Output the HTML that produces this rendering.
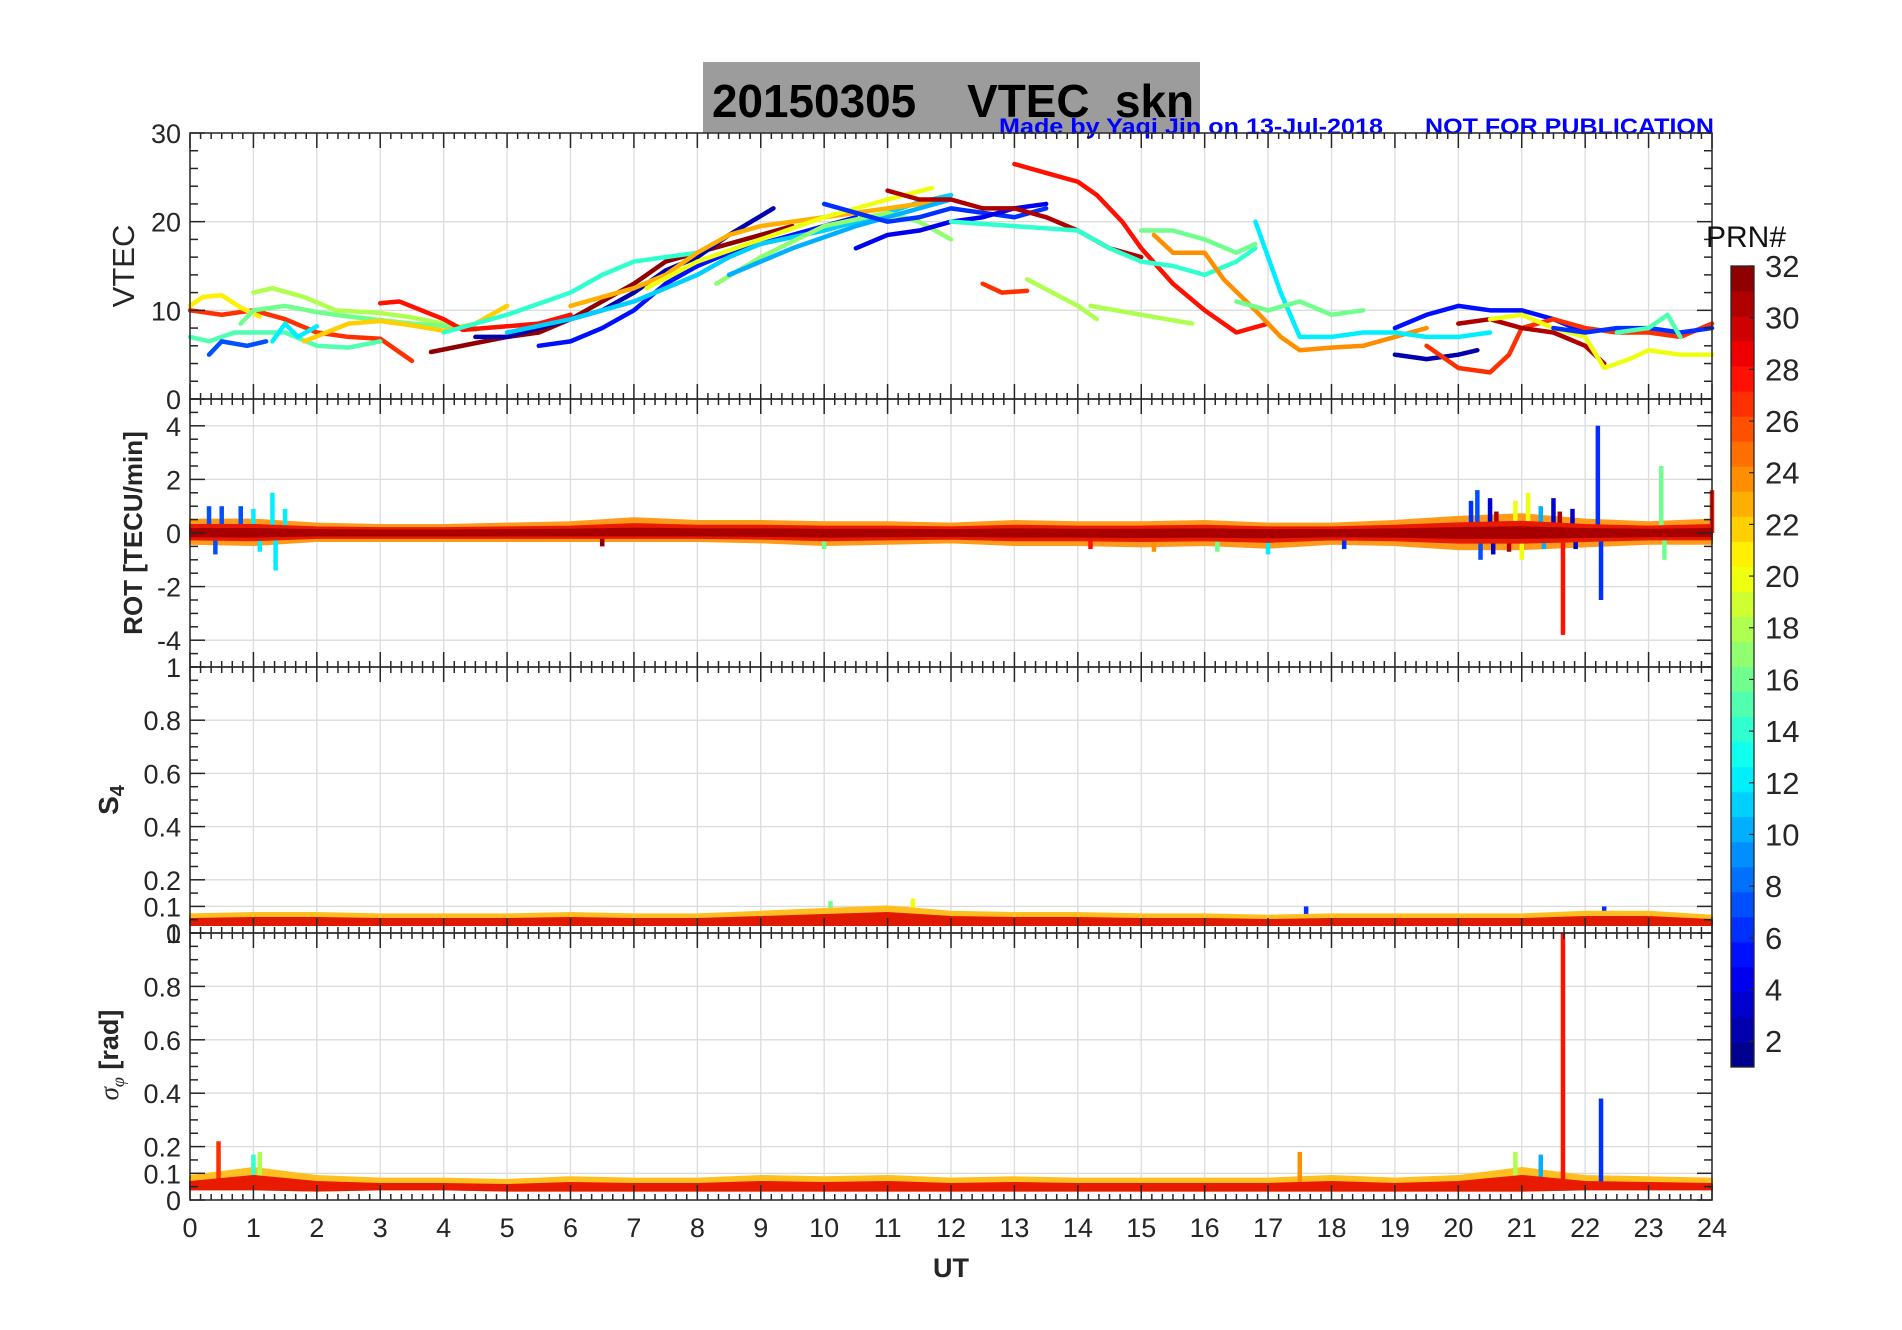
<!DOCTYPE html>
<html><head><meta charset="utf-8"><style>
html,body{margin:0;padding:0;background:#fff}
svg{display:block;font-family:"Liberation Sans",sans-serif}
</style></head><body>
<svg id="chart" width="1902" height="1330" viewBox="0 0 1902 1330" xmlns="http://www.w3.org/2000/svg">
<rect x="0" y="0" width="1902" height="1330" fill="#fff"/>
<rect x="703" y="62" width="497" height="71" fill="#9c9c9c"/>
<text x="712" y="117" font-size="46" font-weight="bold" textLength="482" lengthAdjust="spacingAndGlyphs" xml:space="preserve">20150305    VTEC  skn</text>
<text x="999" y="134" font-size="22" font-weight="bold" fill="#0000ff" textLength="384" lengthAdjust="spacingAndGlyphs">Made by Yaqi Jin on 13-Jul-2018</text>
<text x="1425" y="134" font-size="22" font-weight="bold" fill="#0000ff" textLength="289" lengthAdjust="spacingAndGlyphs">NOT FOR PUBLICATION</text>
<g id="plots"></g>
</svg>
<script>
// ---- data ----
const hourTicks=[0,1,2,3,4,5,6,7,8,9,10,11,12,13,14,15,16,17,18,19,20,21,22,23,24];
const vtecTicks=[0,10,20,30];
const rotTicks=[-4,-2,0,2,4];
const s4Ticks=[0,0.1,0.2,0.4,0.6,0.8,1];
const sigTicks=[0,0.1,0.2,0.4,0.6,0.8,1];
const cbTicks=[2,4,6,8,10,12,14,16,18,20,22,24,26,28,30,32];
const vtecPrn=[27,21,18,16,15,7,12,22,28,32,5,2,11,14,23,20,17,10,6,4,31,28,14,16,24,18,18,27,12,16,5,2,27,31,20,6,15];
const vtecPts=[
[[0,10],[0.5,9.5],[1,10],[1.5,9],[2,7.5],[2.5,7],[3,6.8],[3.5,4.3]],
[[0,10.5],[0.2,11.5],[0.5,11.7],[0.8,10.3],[1.1,9.3]],
[[1,12],[1.3,12.5],[1.8,11.5],[2.3,10],[3,9.7],[3.5,9.2],[4,8.5],[4.5,7.8]],
[[0.8,8.5],[1,10],[1.5,10.5],[2,9.8],[2.5,9.3],[3.5,8.5],[4.5,8]],
[[0,7],[0.3,6.5],[0.7,7.5],[1.5,7.5],[2,6],[2.5,5.8],[3,6.5]],
[[0.3,5],[0.5,6.5],[0.9,6],[1.2,6.5]],
[[1.3,6.5],[1.5,8.5],[1.7,7],[2,8.2]],
[[1.8,6.5],[2.5,8.5],[3,8.8],[3.5,8.3],[4,7.7],[4.5,8.5],[5,10.5]],
[[3,10.8],[3.3,11],[4,9],[4.3,7.8],[5,8.2],[5.5,8.5],[6,9.5]],
[[3.8,5.3],[4.5,6.3],[5,7],[5.5,7.5],[6,9],[6.5,11],[7,13],[7.5,15.5],[8,16.5],[8.5,17.5],[9,18.5],[9.5,19.5]],
[[5.5,6],[6,6.5],[6.5,8],[7,10],[7.5,13],[8,15],[8.5,16.5],[9,17.5],[9.5,18.5],[10,19.5],[10.5,20.5]],
[[4.5,7],[5,7],[5.5,8],[6,9],[6.5,10],[7,12],[7.5,14.5],[8,16],[8.5,18.5],[9.2,21.5]],
[[5,7.5],[6,9],[6.5,10],[7,11],[7.5,12.5],[8,14],[8.5,16],[9,17.5],[10,19],[11,21],[11.5,22.2],[12,23]],
[[4,7.5],[5,9.5],[6,12],[6.5,14],[7,15.5],[7.5,16],[8,16.5]],
[[6,10.5],[7,12.5],[7.5,14],[8,16.5],[8.5,18.5],[9,19.5],[10,20.5],[11,21.5],[12,22.5]],
[[7.2,12.5],[8,15.5],[9,18],[10,20.5],[11,22.5],[11.7,23.8]],
[[8.3,13],[9,16],[10,19.5],[11,21],[11.5,20],[12,18]],
[[8.5,14],[9.5,17],[10.5,19.5],[11.5,21.5],[12,22.5]],
[[10,22],[10.5,21],[11,20],[11.5,20.5],[12,21.5],[12.5,21],[13,20.5],[13.5,21.5]],
[[10.5,17],[11,18.5],[11.5,19],[12,20],[12.5,20.5],[13,21.5],[13.5,22]],
[[11,23.5],[11.5,22.5],[12,22.5],[12.5,21.5],[13,21.5],[13.5,20.5],[14,19],[14.5,17],[15,16]],
[[13,26.5],[13.5,25.5],[14,24.5],[14.3,23],[14.7,20],[15,17],[15.5,13],[16,10],[16.5,7.5],[17,8.5]],
[[12,20],[13,19.5],[14,19],[14.5,17],[15,15.5],[15.5,15],[16,14],[16.5,15.5],[16.8,17]],
[[15,19],[15.5,19],[16,18],[16.5,16.5],[16.8,17.5]],
[[15.2,18.5],[15.5,16.5],[16,16.5],[16.3,13.5],[16.8,10],[17.2,7],[17.5,5.5],[18,5.8],[18.5,6],[19,7],[19.5,8]],
[[14.2,10.5],[15,9.5],[15.8,8.5]],
[[13.2,13.5],[13.6,12],[14,10.5],[14.3,9]],
[[12.5,13],[12.8,12],[13.2,12.2]],
[[16.8,20],[17.2,12],[17.5,7],[18,7],[18.5,7.5],[19,7.5],[19.5,7],[20,7],[20.5,7.5]],
[[16.5,11],[17,10],[17.5,11],[18,9.5],[18.5,10]],
[[19,8],[19.5,9.5],[20,10.5],[20.5,10],[21,10],[21.5,9],[22,7.5]],
[[19,5],[19.5,4.5],[20,5],[20.3,5.5]],
[[19.5,6],[20,3.5],[20.5,3],[20.8,5],[21,8],[21.5,9],[22,8],[22.5,7.5],[23,7.5],[23.5,7],[24,8.5]],
[[20,8.5],[20.5,9],[21,8],[21.5,7.5],[22,6],[22.3,4]],
[[20.5,9],[21,9.5],[21.5,8],[22,7],[22.3,3.5],[22.7,4.5],[23,5.5],[23.5,5],[24,5]],
[[21.5,8],[22,7.5],[22.5,8],[23,8],[23.5,7.5],[24,8]],
[[22.5,7.5],[23,8],[23.3,9.5],[23.5,7]]
];
// ROT band envelope per hour (TECU/min)
const rotUpper=[0.5,0.5,0.35,0.3,0.3,0.35,0.4,0.55,0.45,0.45,0.4,0.4,0.35,0.45,0.4,0.4,0.45,0.35,0.35,0.45,0.6,0.7,0.5,0.4,0.5];
const rotLower=[-0.4,-0.45,-0.3,-0.3,-0.3,-0.3,-0.3,-0.3,-0.3,-0.35,-0.45,-0.4,-0.35,-0.45,-0.45,-0.5,-0.45,-0.55,-0.4,-0.45,-0.6,-0.6,-0.5,-0.4,-0.4];
// ROT spikes: hour, value, prn
const rotSpikeT=[0.3,0.4,0.5,0.8,1.0,1.1,1.3,1.35,1.5,6.5,10.0,14.2,15.2,16.2,17.0,18.2,20.2,20.3,20.35,20.5,20.55,20.6,20.8,20.9,21.0,21.1,21.3,21.35,21.5,21.6,21.65,21.8,21.85,22.2,22.25,23.2,23.25,24];
const rotSpikeV=[1.0,-0.8,1.0,1.0,0.9,-0.7,1.5,-1.4,0.9,-0.5,-0.6,-0.6,-0.7,-0.7,-0.8,-0.6,1.2,1.6,-1.0,1.3,-0.8,0.8,-0.7,1.2,-1.0,1.5,1.0,-0.6,1.3,0.8,-3.8,0.9,-0.6,4.0,-2.5,2.5,-1.0,1.6];
const rotSpikePrn=[7,7,7,7,12,12,12,12,12,32,16,28,24,16,12,6,6,7,7,3,3,31,31,20,20,20,10,10,3,31,28,3,3,6,6,16,16,28];
// S4 band
const s4Upper=[0.07,0.075,0.075,0.07,0.07,0.07,0.075,0.07,0.07,0.08,0.09,0.1,0.08,0.075,0.075,0.07,0.07,0.065,0.07,0.07,0.07,0.07,0.08,0.08,0.065];
const s4Lower=[0.03,0.03,0.03,0.03,0.03,0.03,0.03,0.03,0.03,0.03,0.03,0.03,0.03,0.03,0.03,0.03,0.03,0.03,0.03,0.03,0.03,0.03,0.03,0.03,0.03];
const s4SpikeT=[10.1,11.4,17.6,22.3];
const s4SpikeV=[0.12,0.13,0.1,0.1];
const s4SpikePrn=[16,20,6,6];
// Sigma-phi band
const sigUpper=[0.09,0.12,0.09,0.08,0.08,0.075,0.085,0.08,0.08,0.09,0.085,0.09,0.08,0.085,0.08,0.08,0.08,0.08,0.09,0.08,0.09,0.12,0.09,0.085,0.08];
const sigLower=[0.04,0.04,0.035,0.04,0.04,0.035,0.035,0.035,0.035,0.035,0.035,0.035,0.035,0.035,0.035,0.035,0.035,0.035,0.035,0.035,0.035,0.035,0.04,0.04,0.04];
const sigSpikeT=[0.45,1.0,1.1,17.5,21.65,22.25,20.9,21.3];
const sigSpikeV=[0.22,0.17,0.18,0.18,1.0,0.38,0.18,0.17];
const sigSpikePrn=[27,14,18,24,28,6,18,10];

// ---- layout ----
const L=190,R=1712;
const panels=[{t:133,b:399},{t:399,b:667},{t:667,b:933},{t:933,b:1200}];
const NS="http://www.w3.org/2000/svg";
const root=document.getElementById('plots');
function mk(tag,attrs,parent){const e=document.createElementNS(NS,tag);for(const k in attrs)e.setAttribute(k,attrs[k]);(parent||root).appendChild(e);return e;}
function xs(h){return L+(R-L)*h/24;}
function jet(v){
  const r=Math.min(Math.max(Math.min(4*v-1.5,-4*v+4.5),0),1);
  const g=Math.min(Math.max(Math.min(4*v-0.5,-4*v+3.5),0),1);
  const b=Math.min(Math.max(Math.min(4*v+0.5,-4*v+2.5),0),1);
  return `rgb(${Math.round(r*255)},${Math.round(g*255)},${Math.round(b*255)})`;
}
function prnColor(p){return jet((p-0.5)/32);}

function axes(p,ymin,ymax,ticks,name){
  const ys=v=>p.b-(p.b-p.t)*(v-ymin)/(ymax-ymin);
  const g=mk('g',{});
  
  
  hourTicks.forEach(h=>{mk('line',{x1:xs(h),x2:xs(h),y1:p.t,y2:p.b,stroke:'#dcdcdc','stroke-width':1.3},g);});
  ticks.forEach(v=>{mk('line',{x1:L,x2:R,y1:ys(v),y2:ys(v),stroke:'#dcdcdc','stroke-width':1.3},g);});
  return {ys};
}
function frame(p,ymin,ymax,ticks,minorStep,name){
  const ys=v=>p.b-(p.b-p.t)*(v-ymin)/(ymax-ymin);
  const g=mk('g',{stroke:'#262626','stroke-width':1.5,fill:'none'});
  
  
  mk('rect',{x:L,y:p.t,width:R-L,height:p.b-p.t},g);
  for(let m=0;m<=24*6;m++){const x=xs(m/6);const len=m%6===0?15:6;
    mk('line',{x1:x,x2:x,y1:p.t,y2:p.t+len},g);mk('line',{x1:x,x2:x,y1:p.b,y2:p.b-len},g);}
  for(let v=ymin;v<=ymax+1e-9;v+=minorStep){const y=ys(v);const major=ticks.some(t=>Math.abs(t-v)<1e-6);const len=major?15:8;
    mk('line',{x1:L,x2:L+len,y1:y,y2:y},g);mk('line',{x1:R,x2:R-len,y1:y,y2:y},g);}
  ticks.forEach(v=>{const t=mk('text',{x:L-9,y:ys(v)+10,'text-anchor':'end','font-size':27,fill:'#262626',stroke:'none'});t.textContent=v;
    
    });
}
function band(ys,up,lo,color,name){
  let d='';up.forEach((v,i)=>{d+=(i?'L':'M')+xs(i)+','+ys(v);});
  for(let i=lo.length-1;i>=0;i--)d+='L'+xs(i)+','+ys(lo[i]);
  const e=mk('path',{d:d+'Z',fill:color,stroke:color,'stroke-width':2,'stroke-linejoin':'round'});
  
  
}
function spikes(ys,T,V,P,base,name){
  T.forEach((t,i)=>{const e=mk('line',{x1:xs(t),x2:xs(t),y1:ys(base),y2:ys(V[i]),stroke:prnColor(P[i]),'stroke-width':4.5});
    
    });
}

// Panel 1 VTEC
{const p=panels[0];const {ys}=axes(p,0,30,vtecTicks,'vtec');
 vtecPts.forEach((pts,i)=>{const d=pts.map((q,j)=>(j?'L':'M')+xs(q[0])+','+ys(q[1])).join('');
  const e=mk('path',{d,fill:'none',stroke:prnColor(vtecPrn[i]),'stroke-width':4.5,'stroke-linejoin':'round','stroke-linecap':'round'});
  
  });
 frame(p,0,30,vtecTicks,2,'vtec');}
// Panel 2 ROT
{const p=panels[1];const {ys}=axes(p,-5,5,rotTicks,'rot');
 band(ys,rotUpper,rotLower,'#ff9a1a','rot-band-outer');
 spikes(ys,rotSpikeT,rotSpikeV,rotSpikePrn,0,'rot-spike');
 band(ys,rotUpper.map(v=>v*0.6),rotLower.map(v=>v*0.6),'#e81a00','rot-band-mid');
 band(ys,rotUpper.map(v=>v*0.3),rotLower.map(v=>v*0.3),'#a80000','rot-band-core');
 frame(p,-5,5,rotTicks,0.5,'rot');}
// Panel 3 S4
{const p=panels[2];const {ys}=axes(p,0,1,s4Ticks,'s4');
 spikes(ys,s4SpikeT,s4SpikeV,s4SpikePrn,0.05,'s4-spike');
 band(ys,s4Upper,s4Lower,'#ffbf20','s4-band');
 band(ys,s4Upper.map(v=>v*0.75),s4Lower,'#e01a00','s4-band-core');
 frame(p,0,1,s4Ticks,0.05,'s4');}
// Panel 4 sigma phi
{const p=panels[3];const {ys}=axes(p,0,1,sigTicks,'sigma');
 band(ys,sigUpper,sigLower,'#ffbf20','sigma-band');
 spikes(ys,sigSpikeT,sigSpikeV,sigSpikePrn,0.05,'sigma-spike');
 band(ys,sigUpper.map(v=>v*0.75),sigLower,'#e81a00','sigma-band-core');
 frame(p,0,1,sigTicks,0.05,'sigma');}

hourTicks.forEach(h=>{const t=mk('text',{x:xs(h),y:1237,'text-anchor':'middle','font-size':27,fill:'#262626'});t.textContent=h;
 
 });
{const t=mk('text',{x:xs(12),y:1277,'text-anchor':'middle','font-size':27,'font-weight':'bold',fill:'#262626'});t.textContent='UT';
 
 }
function ytitle(txt,x,y,size,bold,name){const t=mk('text',{x,y,transform:`rotate(-90 ${x} ${y})`,'text-anchor':'middle','font-size':size,'font-weight':bold?'bold':'normal',fill:'#262626'});t.innerHTML=txt;
 
 return t;}
ytitle('VTEC',134,266,31,false,'vtec-axis-title');
ytitle('ROT [TECU/min]',142,533,26,true,'rot-axis-title');
ytitle('S<tspan font-size="20" dy="6">4</tspan>',118,800,28,true,'s4-axis-title');
ytitle('<tspan font-family="Liberation Serif" font-style="italic" font-weight="normal">σ</tspan><tspan font-family="Liberation Serif" font-style="italic" font-weight="normal" font-size="18" dy="6">φ</tspan><tspan dy="-6"> [rad]</tspan>',118,1055,27,true,'sigma-axis-title');

{const cx=1731,cw=23,ct=266,cb=1067;const n=32;const h=(cb-ct)/n;
 const g=mk('g',{});
 
 
 for(let i=0;i<n;i++){mk('rect',{x:cx,y:cb-(i+1)*h,width:cw,height:h+0.5,fill:jet((i+0.5)/n)},g);}
 mk('rect',{x:cx,y:ct,width:cw,height:cb-ct,fill:'none',stroke:'#262626','stroke-width':1.3},g);
 cbTicks.forEach(v=>{const y=cb-(cb-ct)*(v-1)/31;
  mk('line',{x1:cx+cw-5,x2:cx+cw,y1:y,y2:y,stroke:'#262626','stroke-width':1.2},g);
  const t=mk('text',{x:cx+cw+11,y:y+11,'font-size':31,fill:'#262626'},g);t.textContent=v;
  
  });
 const t=mk('text',{x:1706,y:247,'font-size':30,fill:'#111'},g);t.textContent='PRN#';
 
 }
</script>
</body></html>
